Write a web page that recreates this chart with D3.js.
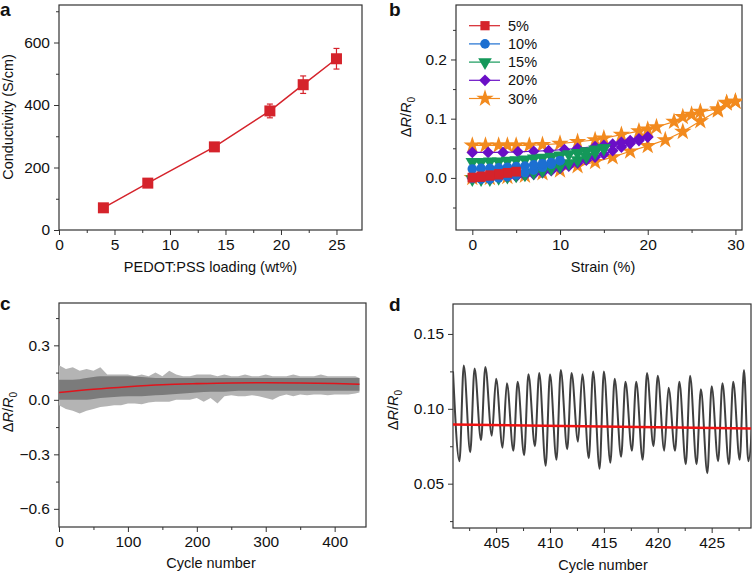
<!DOCTYPE html>
<html><head><meta charset="utf-8">
<script src="https://cdn.jsdelivr.net/npm/d3@7"></script>
<style>body{margin:0;background:#fff}svg{display:block;font-family:"Liberation Sans",Arial,sans-serif}</style>
</head><body><svg id="c" width="755" height="575"></svg>
<script>
// ---------- Panel a data ----------
const aLoading = [4, 8, 14, 19, 22, 25];
const aConductivity = [71, 150, 266, 381, 465, 548];
const aError = [8, 8, 10, 22, 28, 33];
// ---------- Panel b data (loading / unloading branches) ----------
const b5UpX = [0,1,2,3,4,5];
const b5UpY = [0.000,0.001,0.003,0.005,0.008,0.010];
const b5DnX = [5,4,3,2,1,0];
const b5DnY = [0.011,0.009,0.007,0.005,0.003,0.001];
const b10UpX = [0,1,2,3,4,5,6,7,8,9,10];
const b10UpY = [-0.001,-0.002,-0.002,0.000,0.002,0.005,0.009,0.013,0.018,0.023,0.029];
const b10DnX = [10,9,8,7,6,5,4,3,2,1,0];
const b10DnY = [0.029,0.026,0.024,0.022,0.020,0.019,0.018,0.017,0.016,0.016,0.015];
const b15UpX = [0,1,2,3,4,5,6,7,8,9,10,11,12,13,14,15];
const b15UpY = [-0.002,-0.002,-0.002,0.000,0.002,0.004,0.006,0.009,0.012,0.016,0.020,0.025,0.030,0.036,0.043,0.050];
const b15DnX = [15,14,13,12,11,10,9,8,7,6,5,4,3,2,1,0];
const b15DnY = [0.050,0.048,0.045,0.042,0.040,0.038,0.036,0.034,0.033,0.031,0.030,0.029,0.028,0.028,0.027,0.027];
const b20UpX = [0,1,2,3,4,5,6,7,8,9,10,11,12,13,14,15,16,17,18,19,20];
const b20UpY = [0.000,0.000,0.000,0.000,0.001,0.002,0.004,0.006,0.009,0.012,0.016,0.020,0.025,0.030,0.035,0.040,0.046,0.052,0.058,0.063,0.069];
const b20DnX = [20,19,18,17,16,15,14,12,10.5,8.7,7,5.2,3.5,1.8,0];
const b20DnY = [0.069,0.066,0.063,0.060,0.057,0.055,0.053,0.050,0.048,0.046,0.045,0.044,0.043,0.043,0.043];
const b30UpX = [0,2,4,6,8,10,12,14,16,18,20,22,24,26,28,29,30];
const b30UpY = [0.000,0.000,0.002,0.004,0.008,0.013,0.020,0.027,0.035,0.045,0.054,0.064,0.078,0.096,0.114,0.126,0.129];
const b30DnX = [30,29,28,26,25,24,23,21,20,19,17,15,14,12,10,8,6.5,5,4,3,1.5,0];
const b30DnY = [0.129,0.127,0.116,0.112,0.107,0.103,0.095,0.086,0.082,0.079,0.073,0.067,0.064,0.061,0.058,0.056,0.055,0.055,0.055,0.055,0.055,0.055];
const bLabels = ["5%","10%","15%","20%","30%"];
// ---------- Panel c data ----------
const cCycleOuter = [0,10,20,30,40,50,60,70,80,90,100,110,120,130,140,150,160,170,180,190,200,210,220,230,240,250,260,270,280,290,300,310,320,330,340,350,360,370,380,390,400,410,420,430,436];
const cOuterMax = [0.19,0.17,0.18,0.16,0.17,0.16,0.18,0.14,0.14,0.14,0.14,0.13,0.14,0.13,0.15,0.13,0.16,0.14,0.13,0.13,0.14,0.14,0.14,0.13,0.14,0.13,0.13,0.14,0.13,0.13,0.14,0.13,0.13,0.13,0.14,0.13,0.13,0.13,0.14,0.13,0.13,0.13,0.13,0.13,0.12];
const cOuterMin = [-0.03,-0.05,-0.06,-0.075,-0.06,-0.05,-0.04,-0.035,-0.03,-0.03,-0.02,-0.02,-0.025,-0.015,-0.01,-0.01,-0.01,0.0,0.0,0.0,0.01,-0.01,0.01,-0.02,0.02,0.025,0.02,0.02,0.025,0.02,0.01,0.0,0.02,0.03,0.02,0.03,0.025,0.03,0.03,0.025,0.03,0.03,0.03,0.035,0.04];
const cCycleCore = [0,20,40,60,80,100,120,140,160,180,200,220,240,260,280,300,320,340,360,380,400,420,436];
const cCoreMax = [0.11,0.11,0.12,0.13,0.13,0.13,0.125,0.12,0.12,0.12,0.12,0.12,0.12,0.12,0.12,0.12,0.12,0.12,0.12,0.12,0.12,0.12,0.12];
const cCoreMin = [0.0,0.0,0.0,0.01,0.015,0.02,0.02,0.025,0.03,0.035,0.04,0.045,0.045,0.05,0.05,0.05,0.05,0.05,0.05,0.05,0.05,0.05,0.05];
const cFitCycle = [0,50,100,150,200,250,300,350,400,436];
const cFitValue = [0.040,0.058,0.072,0.083,0.089,0.093,0.094,0.093,0.090,0.086];
// ---------- Panel d data ----------
const dPeakCycle = [401,402,403,404,405,406,407,408,409,410,411,412,413,414,415,416,417,418,419,420,421,422,423,424,425,426,427,428,429];
const dPeaks = [0.125,0.129,0.127,0.128,0.120,0.117,0.118,0.123,0.124,0.123,0.126,0.124,0.123,0.125,0.125,0.120,0.118,0.118,0.124,0.122,0.114,0.118,0.122,0.113,0.115,0.117,0.118,0.126,0.124];
const dTroughCycle = [401.6,402.6,403.6,404.6,405.6,406.6,407.6,408.6,409.6,410.6,411.6,412.6,413.6,414.6,415.6,416.6,417.6,418.6,419.6,420.6,421.6,422.6,423.6,424.6,425.6,426.6,427.6,428.4];
const dTroughs = [0.065,0.071,0.079,0.082,0.074,0.072,0.069,0.075,0.062,0.066,0.073,0.078,0.067,0.060,0.064,0.068,0.072,0.066,0.075,0.072,0.072,0.063,0.063,0.057,0.065,0.063,0.066,0.065];
const dFitCycle = [401, 428.65];
const dFitValue = [0.0895, 0.0869];

const svg = d3.select("#c");
const FS = 14.5;   // titles
const TS = 15.5;   // tick labels
const AX = "#333";

function frame(g, x, y, opts) {
  const [x0, x1] = x.range(), [y0, y1] = y.range();
  const xa = g.append("g").attr("transform", `translate(0,${y0})`)
    .call(d3.axisBottom(x).tickValues(opts.xt).tickSize(5).tickPadding(4).tickFormat(opts.xf || d3.format("d")));
  const xm = g.append("g").attr("transform", `translate(0,${y0})`)
    .call(d3.axisBottom(x).tickValues(opts.xm).tickSize(3).tickFormat(""));
  const ya = g.append("g").attr("transform", `translate(${x0},0)`)
    .call(d3.axisLeft(y).tickValues(opts.yt).tickSize(5).tickPadding(4).tickFormat(opts.yf));
  const ym = g.append("g").attr("transform", `translate(${x0},0)`)
    .call(d3.axisLeft(y).tickValues(opts.ym).tickSize(3).tickFormat(""));
  [xa, xm, ya, ym].forEach(a => {
    a.select(".domain").remove();
    a.selectAll("line").attr("stroke", AX).attr("stroke-width", 1);
    a.selectAll("text").attr("font-size", TS).attr("fill", "#111").attr("font-family", "Liberation Sans, Arial, sans-serif");
  });
  g.append("rect").attr("x", x0).attr("y", y1).attr("width", x1 - x0).attr("height", y0 - y1)
    .attr("fill", "none").attr("stroke", AX).attr("stroke-width", 1.2);
}
function yTitle(g, cx, cy) {
  const t = g.append("text").attr("transform", `translate(${cx},${cy}) rotate(-90)`)
    .attr("text-anchor", "middle").attr("font-size", FS).attr("fill", "#111");
  t.append("tspan").text("Δ");
  t.append("tspan").attr("font-style", "italic").text("R");
  t.append("tspan").text("/");
  t.append("tspan").attr("font-style", "italic").text("R");
  t.append("tspan").attr("font-size", 10).attr("dy", 4).text("0");
}
function letter(t, x, y) {
  svg.append("text").attr("x", x).attr("y", y).attr("font-size", 19).attr("font-weight", "bold").attr("fill", "#111").text(t);
}
const fmt1 = v => (v < 0 ? "\u2212" : "") + Math.abs(v).toFixed(1);

// ================= Panel a =================
{
  const g = svg.append("g");
  const x = d3.scaleLinear().domain([0, 27.3]).range([59, 362]);
  const y = d3.scaleLinear().domain([0, 720]).range([230, 5]);
  frame(g, x, y, { xt: [0,5,10,15,20,25], xm: [2.5,7.5,12.5,17.5,22.5], yt: [0,200,400,600], ym: [100,300,500,700], yf: d3.format("d") });
  const red = "#d5232b";
  const pts = aLoading.map((v, i) => [v, aConductivity[i], aError[i]]);
  g.append("path").datum(pts).attr("fill", "none").attr("stroke", red).attr("stroke-width", 1.5)
    .attr("d", d3.line().x(d => x(d[0])).y(d => y(d[1])));
  const eb = g.append("g").attr("stroke", red).attr("stroke-width", 1.2);
  pts.forEach(d => {
    eb.append("line").attr("x1", x(d[0])).attr("x2", x(d[0])).attr("y1", y(d[1] - d[2])).attr("y2", y(d[1] + d[2]));
    [d[1] - d[2], d[1] + d[2]].forEach(v => eb.append("line").attr("x1", x(d[0]) - 3).attr("x2", x(d[0]) + 3).attr("y1", y(v)).attr("y2", y(v)));
  });
  g.selectAll("rect.m").data(pts).join("rect").attr("class", "m")
    .attr("x", d => x(d[0]) - 5.5).attr("y", d => y(d[1]) - 5.5).attr("width", 11).attr("height", 11).attr("fill", red);
  g.append("text").attr("x", 210.5).attr("y", 272).attr("text-anchor", "middle").attr("font-size", FS).attr("fill", "#111").text("PEDOT:PSS loading (wt%)");
  g.append("text").attr("transform", "translate(13,117) rotate(-90)").attr("text-anchor", "middle").attr("font-size", FS).attr("fill", "#111").text("Conductivity (S/cm)");
  letter("a", 0, 16);
}

// ================= Panel b =================
{
  const g = svg.append("g");
  const x = d3.scaleLinear().domain([-1.86, 30.75]).range([456, 742]);
  const y = d3.scaleLinear().domain([-0.088, 0.292]).range([230, 5]);
  frame(g, x, y, { xt: [0,10,20,30], xm: [5,15,25], yt: [0,0.1,0.2], ym: [-0.05,0.05,0.15,0.25], yf: d => d.toFixed(1) });
  const series = [
    { c: "#f28a1e", sym: "star", ux: b30UpX, uy: b30UpY, dx: b30DnX, dy: b30DnY, li: 4 },
    { c: "#6a0fc6", sym: "diamond", ux: b20UpX, uy: b20UpY, dx: b20DnX, dy: b20DnY, li: 3 },
    { c: "#14985a", sym: "tri", ux: b15UpX, uy: b15UpY, dx: b15DnX, dy: b15DnY, li: 2 },
    { c: "#1c6fd1", sym: "circle", ux: b10UpX, uy: b10UpY, dx: b10DnX, dy: b10DnY, li: 1 },
    { c: "#d5232b", sym: "square", ux: b5UpX, uy: b5UpY, dx: b5DnX, dy: b5DnY, li: 0 }
  ];
  function marker(sel, s) {
    if (s === "star") return sel.append("path").attr("d", d3.symbol(d3.symbolStar, 95)());
    if (s === "diamond") return sel.append("path").attr("d", d3.symbol(d3.symbolSquare, 68)()).attr("transform", "rotate(45)");
    if (s === "tri") return sel.append("path").attr("d", d3.symbol(d3.symbolTriangle, 80)()).attr("transform", "rotate(180)");
    if (s === "circle") return sel.append("circle").attr("r", 4.8);
    return sel.append("rect").attr("x", -4.6).attr("y", -4.6).attr("width", 9.2).attr("height", 9.2);
  }
  svg.append("clipPath").attr("id", "cb").append("rect").attr("x", 456).attr("y", 5).attr("width", 286).attr("height", 225);
  const pg = g.append("g").attr("clip-path", "url(#cb)");
  series.forEach(s => {
    const pts = s.ux.map((v, i) => [v, s.uy[i]]).concat(s.dx.map((v, i) => [v, s.dy[i]]));
    pg.append("path").datum(pts).attr("fill", "none").attr("stroke", s.c).attr("stroke-width", 1.2)
      .attr("d", d3.line().x(d => x(d[0])).y(d => y(d[1])));
    pts.forEach(d => {
      const m = pg.append("g").attr("transform", `translate(${x(d[0])},${y(d[1])})`).attr("fill", s.c);
      marker(m, s.sym);
    });
  });
  // legend
  series.slice().reverse().forEach((s, i) => {
    const ly = 25.7 + i * 18.2;
    g.append("line").attr("x1", 469).attr("x2", 500).attr("y1", ly).attr("y2", ly).attr("stroke", s.c).attr("stroke-width", 1.2);
    const m = g.append("g").attr("transform", `translate(485,${ly})`).attr("fill", s.c);
    marker(m, s.sym);
    g.append("text").attr("x", 508).attr("y", ly + 5).attr("font-size", FS).attr("fill", "#111").text(bLabels[s.li]);
  });
  g.append("text").attr("x", 603).attr("y", 272).attr("text-anchor", "middle").attr("font-size", FS).attr("fill", "#111").text("Strain (%)");
  yTitle(g, 411, 117);
  letter("b", 389, 16);
}

// ================= Panel c =================
{
  const g = svg.append("g");
  const x = d3.scaleLinear().domain([0, 445.5]).range([59, 366]);
  const y = d3.scaleLinear().domain([-0.70, 0.533]).range([527, 303]);
  frame(g, x, y, { xt: [0,100,200,300,400], xm: [50,150,250,350], yt: [0.3,0,-0.3,-0.6], ym: [0.45,0.15,-0.15,-0.45], yf: fmt1 });
  const outer = cCycleOuter.map((c, i) => [c, cOuterMin[i], cOuterMax[i]]);
  const core = cCycleCore.map((c, i) => [c, cCoreMin[i], cCoreMax[i]]);
  g.append("path").datum(outer).attr("fill", "#b4b4b4")
    .attr("d", d3.area().x(d => x(d[0])).y0(d => y(d[1])).y1(d => y(d[2])));
  g.append("path").datum(core).attr("fill", "#7b7b7b")
    .attr("d", d3.area().x(d => x(d[0])).y0(d => y(d[1])).y1(d => y(d[2])).curve(d3.curveMonotoneX));
  const fit = cFitCycle.map((c, i) => [c, cFitValue[i]]);
  g.append("path").datum(fit).attr("fill", "none").attr("stroke", "#e0141c").attr("stroke-width", 1.6)
    .attr("d", d3.line().x(d => x(d[0])).y(d => y(d[1])).curve(d3.curveMonotoneX));
  g.append("text").attr("x", 211).attr("y", 568).attr("text-anchor", "middle").attr("font-size", FS).attr("fill", "#111").text("Cycle number");
  yTitle(g, 13, 412);
  letter("c", 0, 310);
}

// ================= Panel d =================
{
  const g = svg.append("g");
  const x = d3.scaleLinear().domain([401.0, 428.65]).range([453, 751]);
  const y = d3.scaleLinear().domain([0.0204, 0.170]).range([528, 304]);
  frame(g, x, y, { xt: [405,410,415,420,425], xm: [402.5,407.5,412.5,417.5,422.5,427.5], yt: [0.05,0.1,0.15], ym: [0.025,0.075,0.125], yf: d => d.toFixed(2) });
  svg.append("clipPath").attr("id", "cd").append("rect").attr("x", 453).attr("y", 304).attr("width", 298).attr("height", 224);
  const pts = [];
  dPeakCycle.forEach((c, i) => {
    pts.push([c, dPeaks[i]]);
    if (i < dTroughCycle.length) pts.push([dTroughCycle[i], dTroughs[i]]);
  });
  const pg = g.append("g").attr("clip-path", "url(#cd)");
  pg.append("path").datum(pts).attr("fill", "none").attr("stroke", "#404040").attr("stroke-width", 2)
    .attr("d", d3.line().x(d => x(d[0])).y(d => y(d[1])).curve(d3.curveMonotoneX));
  const fit = dFitCycle.map((c, i) => [c, dFitValue[i]]);
  pg.append("path").datum(fit).attr("fill", "none").attr("stroke", "#ee1111").attr("stroke-width", 2.6)
    .attr("d", d3.line().x(d => x(d[0])).y(d => y(d[1])));
  g.append("text").attr("x", 603).attr("y", 570).attr("text-anchor", "middle").attr("font-size", FS).attr("fill", "#111").text("Cycle number");
  yTitle(g, 398, 410);
  letter("d", 389, 311);
}
</script></body></html>
